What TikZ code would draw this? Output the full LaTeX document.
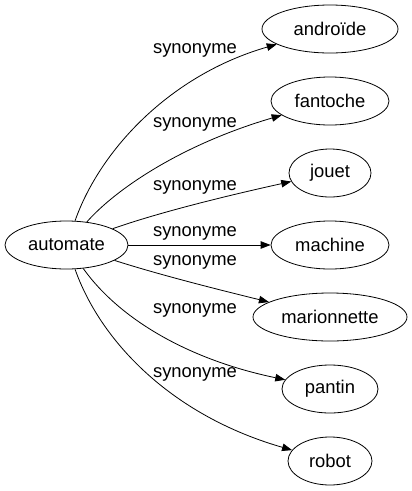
\documentclass[tikz,border=0pt]{standalone}
\usepackage{fontspec}
\setmainfont{Liberation Sans}
\usetikzlibrary{arrows.meta,shapes.geometric}
\begin{document}
\begin{tikzpicture}[x=1pt,y=-1pt,
  word/.style={ellipse,draw,line width=0.8pt,inner sep=0pt,font=\fontsize{18.4}{20}\selectfont},
  lbl/.style={inner sep=0pt,font=\fontsize{18.4}{20}\selectfont},
  edge/.style={draw,line width=0.8pt,-{Triangle[length=10pt,width=7.5pt]}}]
\useasboundingbox (0,0) rectangle (412,491);
\node[word,minimum width=123pt,minimum height=48pt] (automate) at (66.5,245) {automate};
\node[word,minimum width=136pt,minimum height=48pt] (androide) at (330,29) {androïde};
\node[word,minimum width=118pt,minimum height=48pt] (fantoche) at (330,101) {fantoche};
\node[word,minimum width=82pt,minimum height=48pt] (jouet) at (330,173) {jouet};
\node[word,minimum width=118pt,minimum height=48pt] (machine) at (330,245) {machine};
\node[word,minimum width=154pt,minimum height=48pt] (marionnette) at (330,317) {marionnette};
\node[word,minimum width=96pt,minimum height=48pt] (pantin) at (330,389) {pantin};
\node[word,minimum width=84pt,minimum height=48pt] (robot) at (330,461) {robot};
\node[lbl] (l1) at (195,50) {synonyme};
\node[lbl] (l2) at (195,124) {synonyme};
\node[lbl] (l3) at (195,187) {synonyme};
\node[lbl] (l4) at (195,233) {synonyme};
\node[lbl] (l5) at (195,262) {synonyme};
\node[lbl] (l6) at (195,310) {synonyme};
\node[lbl] (l7) at (195,374) {synonyme};
\draw[edge] (automate) .. controls (100,150) and (170,75) .. (androide);
\draw[edge] (automate) .. controls (115,190) and (180,145) .. (fantoche);
\draw[edge] (automate) .. controls (160,212) and (230,195) .. (jouet);
\draw[edge] (automate) -- (machine);
\draw[edge] (automate) .. controls (160,275) and (220,290) .. (marionnette);
\draw[edge] (automate) .. controls (120,320) and (190,360) .. (pantin);
\draw[edge] (automate) .. controls (100,340) and (170,415) .. (robot);
\end{tikzpicture}
\end{document}
